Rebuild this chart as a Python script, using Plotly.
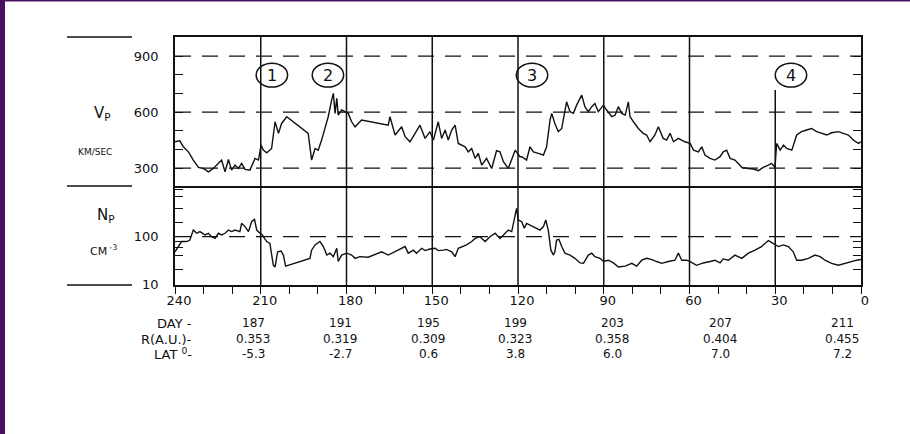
import plotly.graph_objects as go
from plotly.subplots import make_subplots

# ---------------- data ----------------
vp_x = [240, 238.3, 237.1, 235.3, 233.6, 231.8, 230.1, 228.3, 226.6, 224.8, 223.7, 222.5, 221.3, 220.2,
        219.0, 217.8, 216.7, 215.5, 213.8, 212.0, 210.8, 209.9, 209.1, 207.9, 206.2, 205.0, 203.8, 202.7,
        200.9, 193.4, 192.2, 191.0, 189.9, 188.7, 187.5, 186.4, 185.2, 184.6, 184.0, 183.4, 182.9, 181.7,
        180.5, 179.4, 178.2, 177.0, 175.9, 174.7, 165.4, 164.8, 163.0, 160.7, 159.5, 157.8, 156.0, 154.3,
        152.5, 150.8, 149.6, 147.9, 146.7, 145.5, 144.4, 143.2, 142.0, 140.9, 138.5, 137.4, 136.2, 135.0,
        133.9, 132.7, 131.0, 129.2, 127.5, 126.3, 125.1, 123.4, 121.0, 119.3,
        118.7, 117.0, 115.8, 114.6, 112.9, 111.1, 110.0, 108.8, 108.2, 107.1, 105.9, 104.7, 103.0, 101.8,
        100.6, 99.5, 98.3, 97.7, 96.6, 95.4, 94.2, 93.1, 91.9, 90.1, 89.0, 87.2, 86.0, 84.9, 83.7, 82.5,
        81.4, 80.8, 79.6, 77.9, 76.2, 75.0, 73.8, 72.1, 70.9, 69.2, 68.0, 66.8, 65.6, 63.9, 61.6, 59.8,
        58.6, 56.9, 55.7, 54.6, 52.8, 51.1, 49.3, 48.2, 47.0, 45.8, 44.1, 41.7, 39.4, 37.7, 35.9, 34.2,
        32.4, 31.3, 30.1, 29.5, 28.3, 27.1, 26.0, 24.2, 22.5, 20.8, 19.0, 17.3, 15.5, 13.8, 12.0, 10.3,
        7.9, 6.2, 4.4, 2.7, 0.9, 0]
vp_kms = [441, 446, 414, 387, 343, 304, 298, 280, 298, 325, 343, 280, 346, 289,
          316, 298, 325, 293, 289, 352, 343, 423, 396, 382, 405, 548, 486, 539,
          575, 486, 343, 405, 396, 450, 521, 575, 664, 700, 593, 673, 584, 611,
          602, 593, 548, 521, 539, 557, 530, 575, 477, 521, 468, 441, 486, 530,
          459, 495, 450, 548, 459, 504, 450, 504, 530, 432, 414, 387, 405, 352,
          379, 316, 352, 298, 393, 387, 334, 298, 396, 361,
          361, 343, 414, 387, 379, 370, 414, 557, 593, 539, 495, 512, 655, 602,
          593, 637, 673, 691, 629, 602, 629, 646, 602, 637, 611, 575, 584, 629, 593, 584,
          655, 575, 548, 512, 486, 477, 441, 477, 521, 459, 450, 486, 441, 459, 441, 432,
          396, 387, 414, 370, 352, 343, 361, 387, 396, 352, 343, 304, 298, 295, 286, 304,
          316, 325, 304, 432, 396, 423, 405, 396, 477, 495, 504, 512, 495, 486, 477, 489,
          495, 486, 477, 450, 432, 441]

np_x = [240, 238.8, 237.7, 235.9, 234.8, 233.6, 232.4, 231.3, 229.5, 228.3, 227.2, 226.0, 224.8, 223.7,
        222.5, 221.3, 220.2, 219.0, 217.3, 216.7, 215.5, 214.3, 213.2, 212.2, 211.4, 210.3, 209.4, 208.7,
        207.9, 206.8, 205.6, 205.0, 204.1, 202.9, 202.1, 201.3, 192.8, 192.2, 191.0, 189.3, 188.1, 186.9,
        185.8, 184.6, 183.4, 182.9, 181.7, 179.9, 178.2, 177.0, 175.3, 172.4, 167.7, 165.4, 163.0, 160.7,
        159.5, 158.4, 156.6, 155.5, 153.7, 152.5, 150.8, 149.0, 147.9, 146.1, 145.0, 143.2, 142.0, 140.9,
        139.1, 138.0, 136.2, 135.0, 133.3, 131.5, 129.8, 128.0, 126.3, 124.5, 123.4, 122.2, 121.0, 120.5,
        119.9, 118.7, 117.8,
        117.0, 115.8, 114.6, 113.5, 112.3, 111.1, 110.3, 109.4, 108.5, 107.6, 107.1, 106.5, 105.7, 104.7,
        103.6, 101.8, 100.1, 98.3, 97.1, 95.4, 94.2, 93.1, 91.3, 90.1, 88.4, 86.6, 84.9, 82.5, 80.2, 78.5,
        76.7, 75.0, 73.2, 71.5, 69.7, 67.4, 65.1, 63.9, 62.7, 61.0, 59.8, 57.5, 55.2, 52.8, 51.1, 49.3,
        48.2, 46.4, 44.1, 41.7, 39.4, 37.1, 34.8, 32.4, 30.7, 28.9, 27.2, 25.4, 23.7, 22.5, 20.8, 18.4,
        16.1, 14.3, 12.6, 10.3, 7.9, 5.6, 3.3, 1.5, 0]
np_cm3 = [48, 62, 79, 79, 85, 138, 118, 128, 109, 118, 100, 92, 118, 109,
          118, 138, 128, 138, 128, 191, 163, 128, 207, 232, 138, 118, 109, 92,
          79, 72, 25, 23, 48, 50, 41, 24, 35, 52, 67, 79, 62, 41,
          45, 38, 57, 30, 41, 45, 41, 35, 38, 37, 48, 41, 48, 57,
          62, 45, 52, 45, 57, 51, 55, 57, 51, 52, 54, 48, 38, 57,
          62, 67, 79, 92, 100, 79, 100, 118, 92, 118, 138, 128, 264, 395,
          225, 207, 150,
          191, 176, 163, 150, 138, 163, 225, 138, 52, 41, 48, 85, 88, 62,
          45, 41, 35, 28, 27.5, 41, 45, 38, 35, 30, 32, 28, 23, 24, 27.5, 24,
          32, 35, 33, 30, 27.5, 30, 32, 45, 32, 32, 30, 25, 28, 30, 32, 28,
          34, 32, 41, 35, 45, 52, 62, 83, 72, 62, 67, 62, 48, 32, 32, 35,
          41, 38, 32, 27.5, 25, 27.5, 30, 32, 33]

x_ticks = [240, 210, 180, 150, 120, 90, 60, 30, 0]
vp_ticks = [300, 600, 900]
np_ticks = [10, 100]
np_minor = [20, 40, 60, 80, 200, 400, 700, 1000]
event_lines = [210, 180, 150, 120, 90, 60, 30]
event_labels = ["1", "2", "3", "4"]
event_label_x = [206.1, 186.5, 115.1, 24.5]

day_labels = ["187", "191", "195", "199", "203", "207", "211"]
r_au = ["0.353", "0.319", "0.309", "0.323", "0.358", "0.404", "0.455"]
lat_deg = ["-5.3", "-2.7", "0.6", "3.8", "6.0", "7.0", "7.2"]
table_col_px = [253, 340, 428, 515, 612, 720, 842]

# ---------------- layout helpers ----------------
L, R, T, B = 175, 861, 37, 285
W, H = R - L, B - T


def px(xp):
    return (xp - L) / W


def py(yp):
    return (B - yp) / H


FONT = "DejaVu Sans"
INK = "#111111"

fig = make_subplots(rows=2, cols=1, shared_xaxes=True, vertical_spacing=0,
                    row_heights=[149, 99])

fig.add_trace(go.Scatter(x=vp_x, y=vp_kms, mode="lines",
                         line=dict(color=INK, width=1.4), hoverinfo="skip"), row=1, col=1)
fig.add_trace(go.Scatter(x=np_x, y=np_cm3, mode="lines",
                         line=dict(color=INK, width=1.4), hoverinfo="skip"), row=2, col=1)

axis_common = dict(showline=True, linecolor=INK, linewidth=1.5, showgrid=False, zeroline=False,
                   tickfont=dict(family=FONT, size=13, color=INK), tickcolor=INK)

fig.update_xaxes(range=[240, 0], mirror=True, ticks="", showticklabels=False, row=1, col=1, **axis_common)
fig.update_xaxes(range=[240, 0], mirror=False, ticks="outside", ticklen=3, tickwidth=1.3,
                 tickvals=x_ticks, ticktext=[str(v) for v in x_ticks], showticklabels=True,
                 ticklabelshift=-4,
                 minor=dict(ticks="outside", ticklen=7, dtick=10, tick0=0, tickcolor=INK, tickwidth=1.3),
                 row=2, col=1, **axis_common)
fig.update_yaxes(range=[204, 1002], mirror="ticks", ticks="inside", ticklen=8, tickwidth=1.3,
                 tickvals=vp_ticks, ticklabelstandoff=12,
                 minor=dict(ticks="inside", ticklen=8, dtick=100, tick0=0, tickcolor=INK, tickwidth=1.3),
                 row=1, col=1, **axis_common)
fig.update_yaxes(type="log", range=[0.983, 3.067], mirror="ticks", ticks="inside", ticklen=8, tickwidth=1.3,
                 tickvals=np_ticks, ticktext=[str(v) for v in np_ticks], ticklabelstandoff=12,
                 minor=dict(ticks="inside", ticklen=8, tickvals=np_minor, tickcolor=INK, tickwidth=1.3),
                 row=2, col=1, **axis_common)

shapes = []
dash = "16px,11px"
# dashed reference levels
for v in vp_ticks:
    shapes.append(dict(type="line", xref="x domain", yref="y", x0=0, x1=1, y0=v, y1=v,
                       line=dict(color=INK, width=1.3, dash=dash), layer="below"))
shapes.append(dict(type="line", xref="x2 domain", yref="y2", x0=0, x1=1, y0=100, y1=100,
                   line=dict(color=INK, width=1.3, dash=dash), layer="below"))
# vertical solid lines
for xv in event_lines:
    top = 1 if xv != 30 else py(90)
    shapes.append(dict(type="line", xref="x", yref="paper", x0=xv, x1=xv, y0=0, y1=top,
                       line=dict(color=INK, width=1.5)))
# event circles
for lx in event_label_x:
    shapes.append(dict(type="circle", xref="x", yref="y", x0=lx - 5.5, x1=lx + 5.5,
                       y0=798 - 64, y1=798 + 64, line=dict(color=INK, width=1.5)))
# left separator lines
for yy in [T, 186, B]:
    shapes.append(dict(type="line", xref="paper", yref="paper", x0=px(67), x1=px(132),
                       y0=py(yy), y1=py(yy), line=dict(color=INK, width=1.3)))
# purple frame edges
shapes.append(dict(type="rect", xref="paper", yref="paper", x0=px(0), x1=px(5), y0=py(434), y1=py(0),
                   fillcolor="#4b1160", line=dict(width=0)))
shapes.append(dict(type="rect", xref="paper", yref="paper", x0=px(0), x1=px(910), y0=py(1.5), y1=py(0),
                   fillcolor="#4b1160", line=dict(width=0)))

ann = []
for lab, lx in zip(event_labels, event_label_x):
    ann.append(dict(x=lx, y=798, xref="x", yref="y", text=lab, showarrow=False,
                    font=dict(family=FONT, size=16, color=INK)))


def txt(x, y, s, size=12, xanchor="center"):
    ann.append(dict(x=px(x), y=py(y), xref="paper", yref="paper", text=s, showarrow=False,
                    xanchor=xanchor, yanchor="middle", font=dict(family=FONT, size=size, color=INK)))


txt(92, 114, "V<sub>P</sub>", 15, "left")
txt(76, 152, "KM/SEC", 9, "left")
txt(95, 215, "N<sub>P</sub>", 15, "left")
txt(88, 250, "CM<sup> -3</sup>", 11, "left")

txt(194, 323, "DAY -", 13, "right")
txt(194, 339, "R(A.U.)-", 13, "right")
txt(194, 354, "LAT <sup>0</sup>-", 13, "right")
for cx, d, r, la in zip(table_col_px, day_labels, r_au, lat_deg):
    txt(cx, 323, d, 12)
    txt(cx, 339, r, 12)
    txt(cx, 354, la, 12)

fig.update_layout(width=910, height=434, margin=dict(l=L, r=910 - R, t=T, b=434 - B),
                  paper_bgcolor="white", plot_bgcolor="white", showlegend=False,
                  shapes=shapes, annotations=ann, font=dict(family=FONT, color=INK))

fig.write_html("out.html", config={"displayModeBar": False},
               post_script="document.body.style.margin='0';document.body.style.padding='0';"
                           "document.documentElement.style.overflow='hidden';")
